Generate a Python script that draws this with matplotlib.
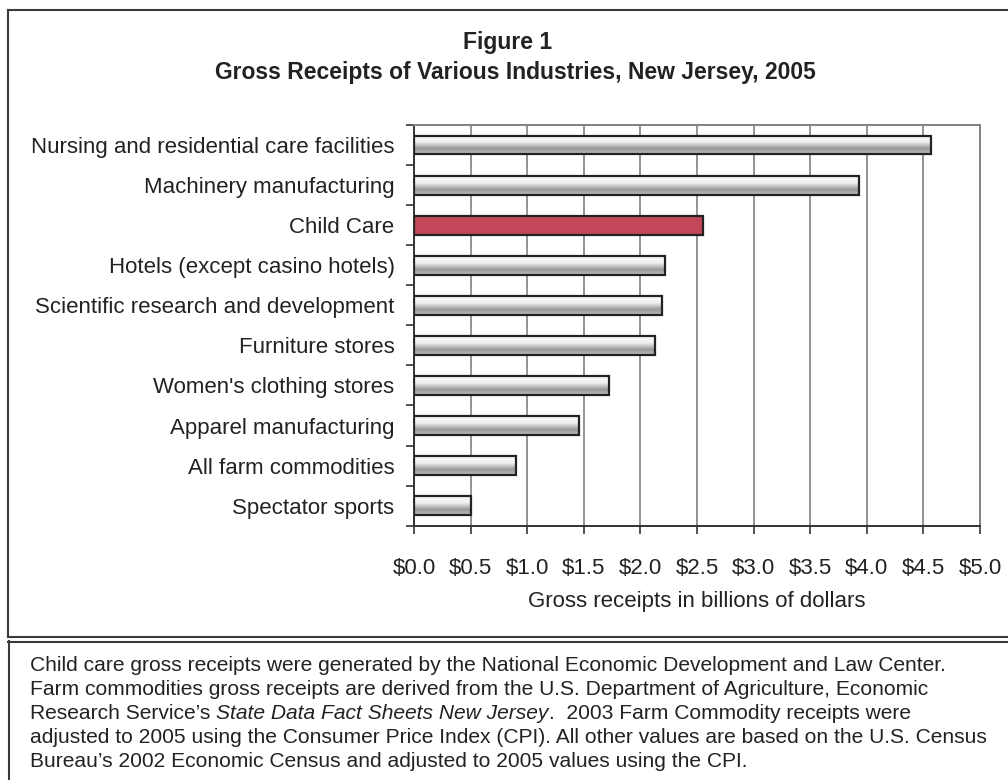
import numpy as np
import matplotlib
matplotlib.use("Agg")
import matplotlib.pyplot as plt
from matplotlib.lines import Line2D

plt.rcParams['font.family'] = ['Liberation Sans', 'DejaVu Sans']

# data, top to bottom, billions of dollars
industries = [
    "Nursing and residential care facilities",
    "Machinery manufacturing",
    "Child Care",
    "Hotels (except casino hotels)",
    "Scientific research and development",
    "Furniture stores",
    "Women's clothing stores",
    "Apparel manufacturing",
    "All farm commodities",
    "Spectator sports",
]
receipts = [4.57, 3.93, 2.55, 2.22, 2.19, 2.13, 1.72, 1.46, 0.90, 0.50]
highlight = "Child Care"
xticks = [0.0, 0.5, 1.0, 1.5, 2.0, 2.5, 3.0, 3.5, 4.0, 4.5, 5.0]

note_lines = [
    [("Child care gross receipts were generated by the National Economic Development and Law Center.", "normal")],
    [("Farm commodities gross receipts are derived from the U.S. Department of Agriculture, Economic", "normal")],
    [("Research Service\u2019s ", "normal"), ("State Data Fact Sheets New Jersey", "italic"),
     (".  2003 Farm Commodity receipts were", "normal")],
    [("adjusted to 2005 using the Consumer Price Index (CPI). All other values are based on the U.S. Census", "normal")],
    [("Bureau\u2019s 2002 Economic Census and adjusted to 2005 values using the CPI.", "normal")],
]

W, H = 1008, 780
fig = plt.figure(figsize=(W / 100, H / 100), dpi=100)


def fx(px):
    return px / W


def fy(py):
    return 1 - py / H


def hline(x0, x1, y, lw=1.5, color='#3a3a3a'):
    fig.add_artist(Line2D([fx(x0), fx(x1)], [fy(y), fy(y)], lw=lw, color=color))


def vline(x, y0, y1, lw=1.5, color='#3a3a3a'):
    fig.add_artist(Line2D([fx(x), fx(x)], [fy(y0), fy(y1)], lw=lw, color=color))


# frames around chart and note
hline(8, 1010, 10)
vline(8, 10, 637)
hline(8, 1010, 637)
hline(8, 1010, 641.5)
vline(9, 641, 782)

ax = fig.add_axes([fx(414), fy(525.7), fx(980) - fx(414), (525.7 - 125) / H])

n = len(industries)
ypos = np.arange(n)

# vertical shading used inside the grey bars
grad_stops = np.array([0.0, 0.1, 0.3, 0.65, 1.0])
grad_vals = np.array([0.82, 0.68, 0.6, 0.94, 0.98])
g = np.interp(np.linspace(0, 1, 64), grad_stops, grad_vals)
grad_img = np.repeat(g[:, None], 2, axis=1)

bar_h = 0.47
bars = ax.barh(ypos, receipts, height=bar_h, edgecolor='#222222', linewidth=1.6, zorder=3)
for bar, name in zip(bars, industries):
    if name == highlight:
        bar.set_facecolor('#C24758')
        continue
    bar.set_facecolor('none')
    x0, y0 = bar.get_x(), bar.get_y()
    w, h = bar.get_width(), bar.get_height()
    im = ax.imshow(grad_img, cmap='gray', vmin=0, vmax=1, aspect='auto',
                   extent=[x0, x0 + w, y0, y0 + h], origin='upper', zorder=2,
                   interpolation='bilinear')
    im.set_clip_path(bar)
ax.set_xlim(0, 5)
ax.set_ylim(n - 0.5, -0.5)

# gridlines
for xv in xticks[1:-1]:
    ax.axvline(xv, color='#808080', lw=1.2, zorder=1)

ax.set_xticks(xticks)
ax.set_xticklabels(["$%.1f" % v for v in xticks], fontsize=16, color='#222222')
ax.set_yticks(ypos)
ax.set_yticklabels(industries, fontsize=16, color='#222222')
ax.set_yticks(np.arange(n + 1) - 0.5, minor=True)
ax.tick_params(axis='y', which='major', length=0, pad=14)
ax.tick_params(axis='y', which='minor', length=6, width=1.2, color='#333333', direction='out')
ax.tick_params(axis='x', which='major', length=6, width=1.2, color='#333333', direction='out', pad=17)

for side in ['top', 'right']:
    ax.spines[side].set_color('#808080')
    ax.spines[side].set_linewidth(1.4)
for side in ['left', 'bottom']:
    ax.spines[side].set_color('#333333')
    ax.spines[side].set_linewidth(1.4)

fig.text(fx(697), fy(601), "Gross receipts in billions of dollars", fontsize=16,
         color='#222222', ha='center', va='center')

fig.text(fx(508), fy(42), "Figure 1", fontsize=16.5, fontweight='bold',
         color='#222222', ha='center', va='center')
fig.text(fx(515), fy(72), "Gross Receipts of Various Industries, New Jersey, 2005",
         fontsize=16.5, fontweight='bold', color='#222222', ha='center', va='center')

# note text, line by line with inline italics
renderer = fig.canvas.get_renderer()
baseline = 670.7
for parts in note_lines:
    xpix = 30
    for txt, style in parts:
        t = fig.text(fx(xpix), fy(baseline), txt, fontsize=15.1, style=style,
                     color='#222222', ha='left', va='baseline')
        xpix += t.get_window_extent(renderer).width
    baseline += 24

fig.savefig("out.png", dpi=100)
